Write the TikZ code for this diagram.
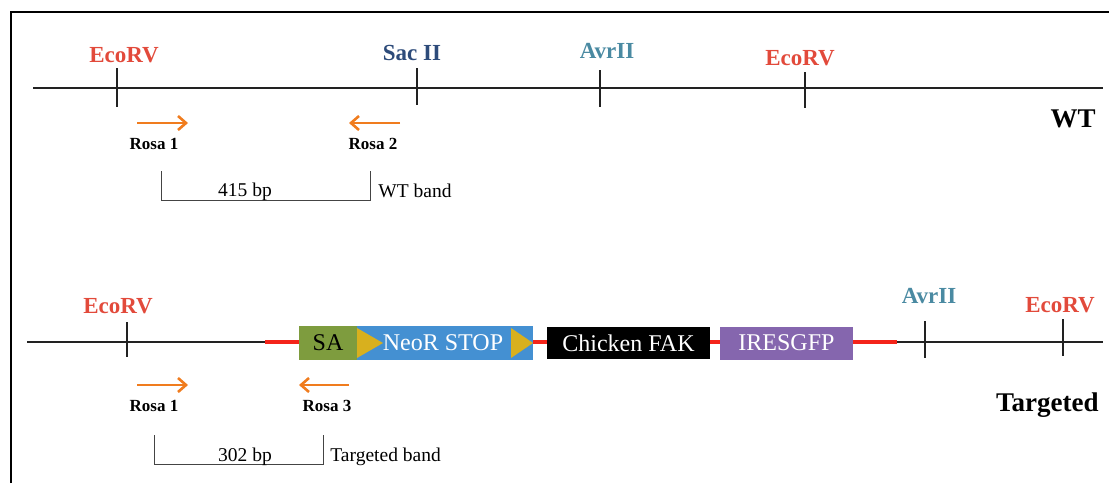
\documentclass[tikz,border=0pt]{standalone}
\usepackage{fontspec}
\setmainfont{Liberation Serif}
\usetikzlibrary{arrows.meta}
\definecolor{ecored}{HTML}{E24A3B}
\definecolor{sacblue}{HTML}{2D4B7A}
\definecolor{avrteal}{HTML}{4A8AA2}
\definecolor{primer}{HTML}{F07C1E}
\definecolor{saolive}{HTML}{7E9C3E}
\definecolor{neoblue}{HTML}{4490D2}
\definecolor{loxgold}{HTML}{D8B01E}
\definecolor{iresviolet}{HTML}{8566AE}
\definecolor{insertred}{HTML}{F4241A}
\definecolor{dnaink}{HTML}{222222}
\definecolor{bandink}{HTML}{444444}

\begin{document}
\begin{tikzpicture}[x=0.5pt, y=-0.5pt]
  % one unit = one pixel of the 1109 x 483 frame, y runs downwards
  \useasboundingbox (0,0) rectangle (1109,483);
  \tikzset{
    site/.style={anchor=base, inner sep=0pt,
                 font=\fontsize{11.5}{13}\selectfont\bfseries},
    allele/.style={anchor=base east, inner sep=0pt,
                   font=\fontsize{13.5}{15}\selectfont\bfseries},
    primername/.style={anchor=base, inner sep=0pt,
                       font=\fontsize{8.5}{10}\selectfont\bfseries},
    bandlab/.style={anchor=base, inner sep=0pt,
                    font=\fontsize{9.75}{11}\selectfont},
    dna/.style={dnaink, line width=1.25pt},
    tick/.style={dnaink, line width=1pt},
    insert/.style={insertred, line width=2pt},
    primerarrow/.style={primer, line width=1.3pt,
                        -{Straight Barb[length=4pt, width=7pt]}},
    band/.style={bandink, line width=0.5pt},
    cassette/.style={inner sep=0pt, anchor=center,
                     font=\fontsize{12}{14}\selectfont, text=white}}

  % --- frame: top and left edge only ---------------------------------------
  \draw[black, line width=1pt] (11,483) -- (11,12) -- (1109,12);

  % ========== WT allele =====================================================
  \draw[dna] (33,88) -- (1103,88);
  \foreach \x/\a/\b in {117/68/107, 417/68/105, 600/70/107, 805/72/108}
    \draw[tick] (\x,\a) -- (\x,\b);
  \node[site, text=ecored]  (wtEcoL) at (124,62) {EcoRV};
  \node[site, text=sacblue] (wtSac)  at (412,60) {Sac II};
  \node[site, text=avrteal] (wtAvr)  at (607,58) {AvrII};
  \node[site, text=ecored]  (wtEcoR) at (800,65) {EcoRV};
  \node[allele] (wtName) at (1096,127) {WT};

  % primers
  \draw[primerarrow] (137,123) -- (188,123);
  \draw[primerarrow] (400,123) -- (349,123);
  \node[primername] (wtRosaA) at (154,149) {Rosa 1};
  \node[primername] (wtRosaB) at (373,149) {Rosa 2};

  % the WT band
  \draw[band] (161,171) -- (161,200) -- (370,200) -- (370,171);
  \node[bandlab] (wtBp)   at (245,196) {415 bp};
  \node[bandlab, anchor=base west] (wtBand) at (378,197) {WT band};

  % ========== Targeted allele ==============================================
  \draw[dna] (27,342) -- (265,342);
  \draw[dna] (897,342) -- (1103,342);
  \foreach \x/\a/\b in {127/322/357, 925/321/358, 1063/319/356}
    \draw[tick] (\x,\a) -- (\x,\b);
  \node[site, text=ecored]  (tgEcoL) at (118,313) {EcoRV};
  \node[site, text=avrteal] (tgAvr)  at (929,303) {AvrII};
  \node[site, text=ecored]  (tgEcoR) at (1060,312) {EcoRV};
  \node[allele] (tgName) at (1099,411) {Targeted};

  % the cassette
  \node[cassette, fill=saolive, text=black, minimum width=58*0.5pt,
        minimum height=34*0.5pt] (sa) at (328,343) {SA};
  \node[cassette, fill=neoblue, minimum width=176*0.5pt,
        minimum height=34*0.5pt] (neo) at (445,343) {};
  \fill[loxgold] (357,328) -- (383,343) -- (357,358) -- cycle;
  \fill[loxgold] (511,328) -- (533,343) -- (511,358) -- cycle;
  \node[cassette] (neoText) at (443,343) {NeoR STOP};
  \node[cassette, fill=black, minimum width=163*0.5pt,
        minimum height=32*0.5pt] (fak) at (628.5,343) {Chicken FAK};
  \node[cassette, fill=iresviolet, minimum width=133*0.5pt,
        minimum height=33*0.5pt] (ires) at (786.5,343) {IRESGFP};

  % red arms of the insert, kept level with the DNA line
  \coordinate (armL) at (265,342);
  \coordinate (armR) at (897,342);
  \draw[insert] (armL) -- (armL -| sa.west);
  \draw[insert] (armL -| neo.east) -- (armL -| fak.west);
  \draw[insert] (armL -| fak.east) -- (armL -| ires.west);
  \draw[insert] (armR -| ires.east) -- (armR);

  % primers
  \draw[primerarrow] (137,385) -- (188,385);
  \draw[primerarrow] (349,385) -- (299,385);
  \node[primername] (tgRosaA) at (154,411) {Rosa 1};
  \node[primername] (tgRosaC) at (327,411) {Rosa 3};

  % the targeted band
  \draw[band] (154,435) -- (154,464) -- (323,464) -- (323,435);
  \node[bandlab] (tgBp)   at (245,461) {302 bp};
  \node[bandlab, anchor=base west] (tgBand) at (330,461) {Targeted band};
\end{tikzpicture}
\end{document}
